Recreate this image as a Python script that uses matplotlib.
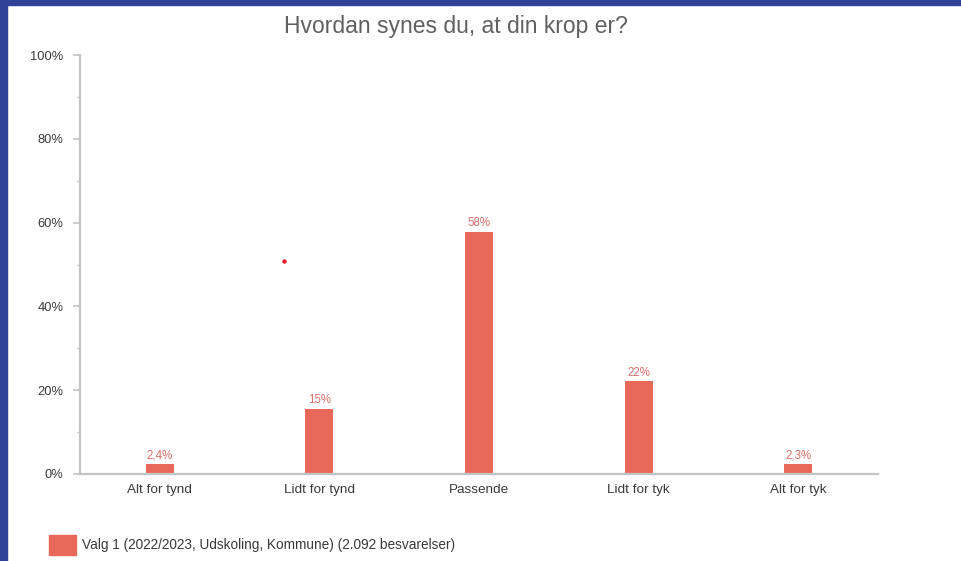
"""
Bar chart: Hvordan synes du, at din krop er?
"""
import matplotlib
matplotlib.use('Agg')
import matplotlib.pyplot as plt
from matplotlib.patches import Rectangle
from matplotlib.ticker import MultipleLocator, PercentFormatter

plt.rcParams['font.family'] = ['Liberation Sans', 'DejaVu Sans']

TITLE = 'Hvordan synes du, at din krop er?'
CATEGORIES = ['Alt for tynd', 'Lidt for tynd', 'Passende', 'Lidt for tyk', 'Alt for tyk']
VALUES = [2.4, 15.5, 57.8, 22.1, 2.3]
VALUE_LABELS = ['2,4%', '15%', '58%', '22%', '2,3%']
SERIES_NAME = 'Valg 1 (2022/2023, Udskoling, Kommune) (2.092 besvarelser)'

# stray red dot visible in the screenshot (category position, percent)
STRAY_DOT = (0.78, 50.8)

BAR_COLOR = '#E8685A'
LABEL_COLOR = '#D8706A'
AXIS_COLOR = '#C4C4C4'
TEXT_COLOR = '#3A3A3A'
BORDER_COLOR = '#2F4196'

W, H = 962, 561
fig = plt.figure(figsize=(W / 100, H / 100), dpi=100)
fig.patch.set_facecolor('white')

ax = fig.add_axes([80 / W, 1 - 474 / H, (878 - 80) / W, (474 - 55) / H])
x = list(range(len(CATEGORIES)))
ax.bar(x, VALUES, width=0.176, color=BAR_COLOR, zorder=2)
for xi, v, lab in zip(x, VALUES, VALUE_LABELS):
    ax.annotate(lab, (xi, v), xytext=(0, 2), textcoords='offset points',
                ha='center', va='bottom', fontsize=8.3, color=LABEL_COLOR)

ax.plot([STRAY_DOT[0]], [STRAY_DOT[1]], marker='o', ms=2.2, color='#E8202A',
        ls='none', zorder=3)

ax.set_xlim(-0.5, len(CATEGORIES) - 0.5)
ax.set_ylim(0, 100)
ax.yaxis.set_major_locator(MultipleLocator(20))
ax.yaxis.set_minor_locator(MultipleLocator(10))
ax.yaxis.set_major_formatter(PercentFormatter(decimals=0))
ax.set_xticks(x)
ax.set_xticklabels(CATEGORIES)

for side in ('top', 'right'):
    ax.spines[side].set_visible(False)
for side in ('left', 'bottom'):
    ax.spines[side].set_color(AXIS_COLOR)
    ax.spines[side].set_linewidth(1.6)

ax.tick_params(axis='y', which='major', length=5, width=1.2, color=AXIS_COLOR,
               labelsize=9.3, labelcolor=TEXT_COLOR, pad=7)
ax.tick_params(axis='y', which='minor', length=2.2, width=1.0, color=AXIS_COLOR)
ax.tick_params(axis='x', length=0, labelsize=9.7, labelcolor=TEXT_COLOR, pad=7)

fig.text(456 / W, 1 - 33 / H, TITLE, ha='center', va='baseline',
         fontsize=16.5, color='#606060')

# legend swatch + text
fig.patches.append(Rectangle((49 / W, 1 - 555 / H), 27 / W, 20 / H,
                             transform=fig.transFigure, color=BAR_COLOR))
fig.text(82 / W, 1 - 545 / H, SERIES_NAME, ha='left', va='center',
         fontsize=9.8, color=TEXT_COLOR)

# dark blue frame from the screenshot (top and left edges)
fig.patches.append(Rectangle((0, 1 - 5 / H), 1, 5 / H,
                             transform=fig.transFigure, color=BORDER_COLOR))
fig.patches.append(Rectangle((0, 0), 7 / W, 1,
                             transform=fig.transFigure, color=BORDER_COLOR))

fig.savefig('out.png', dpi=100)
